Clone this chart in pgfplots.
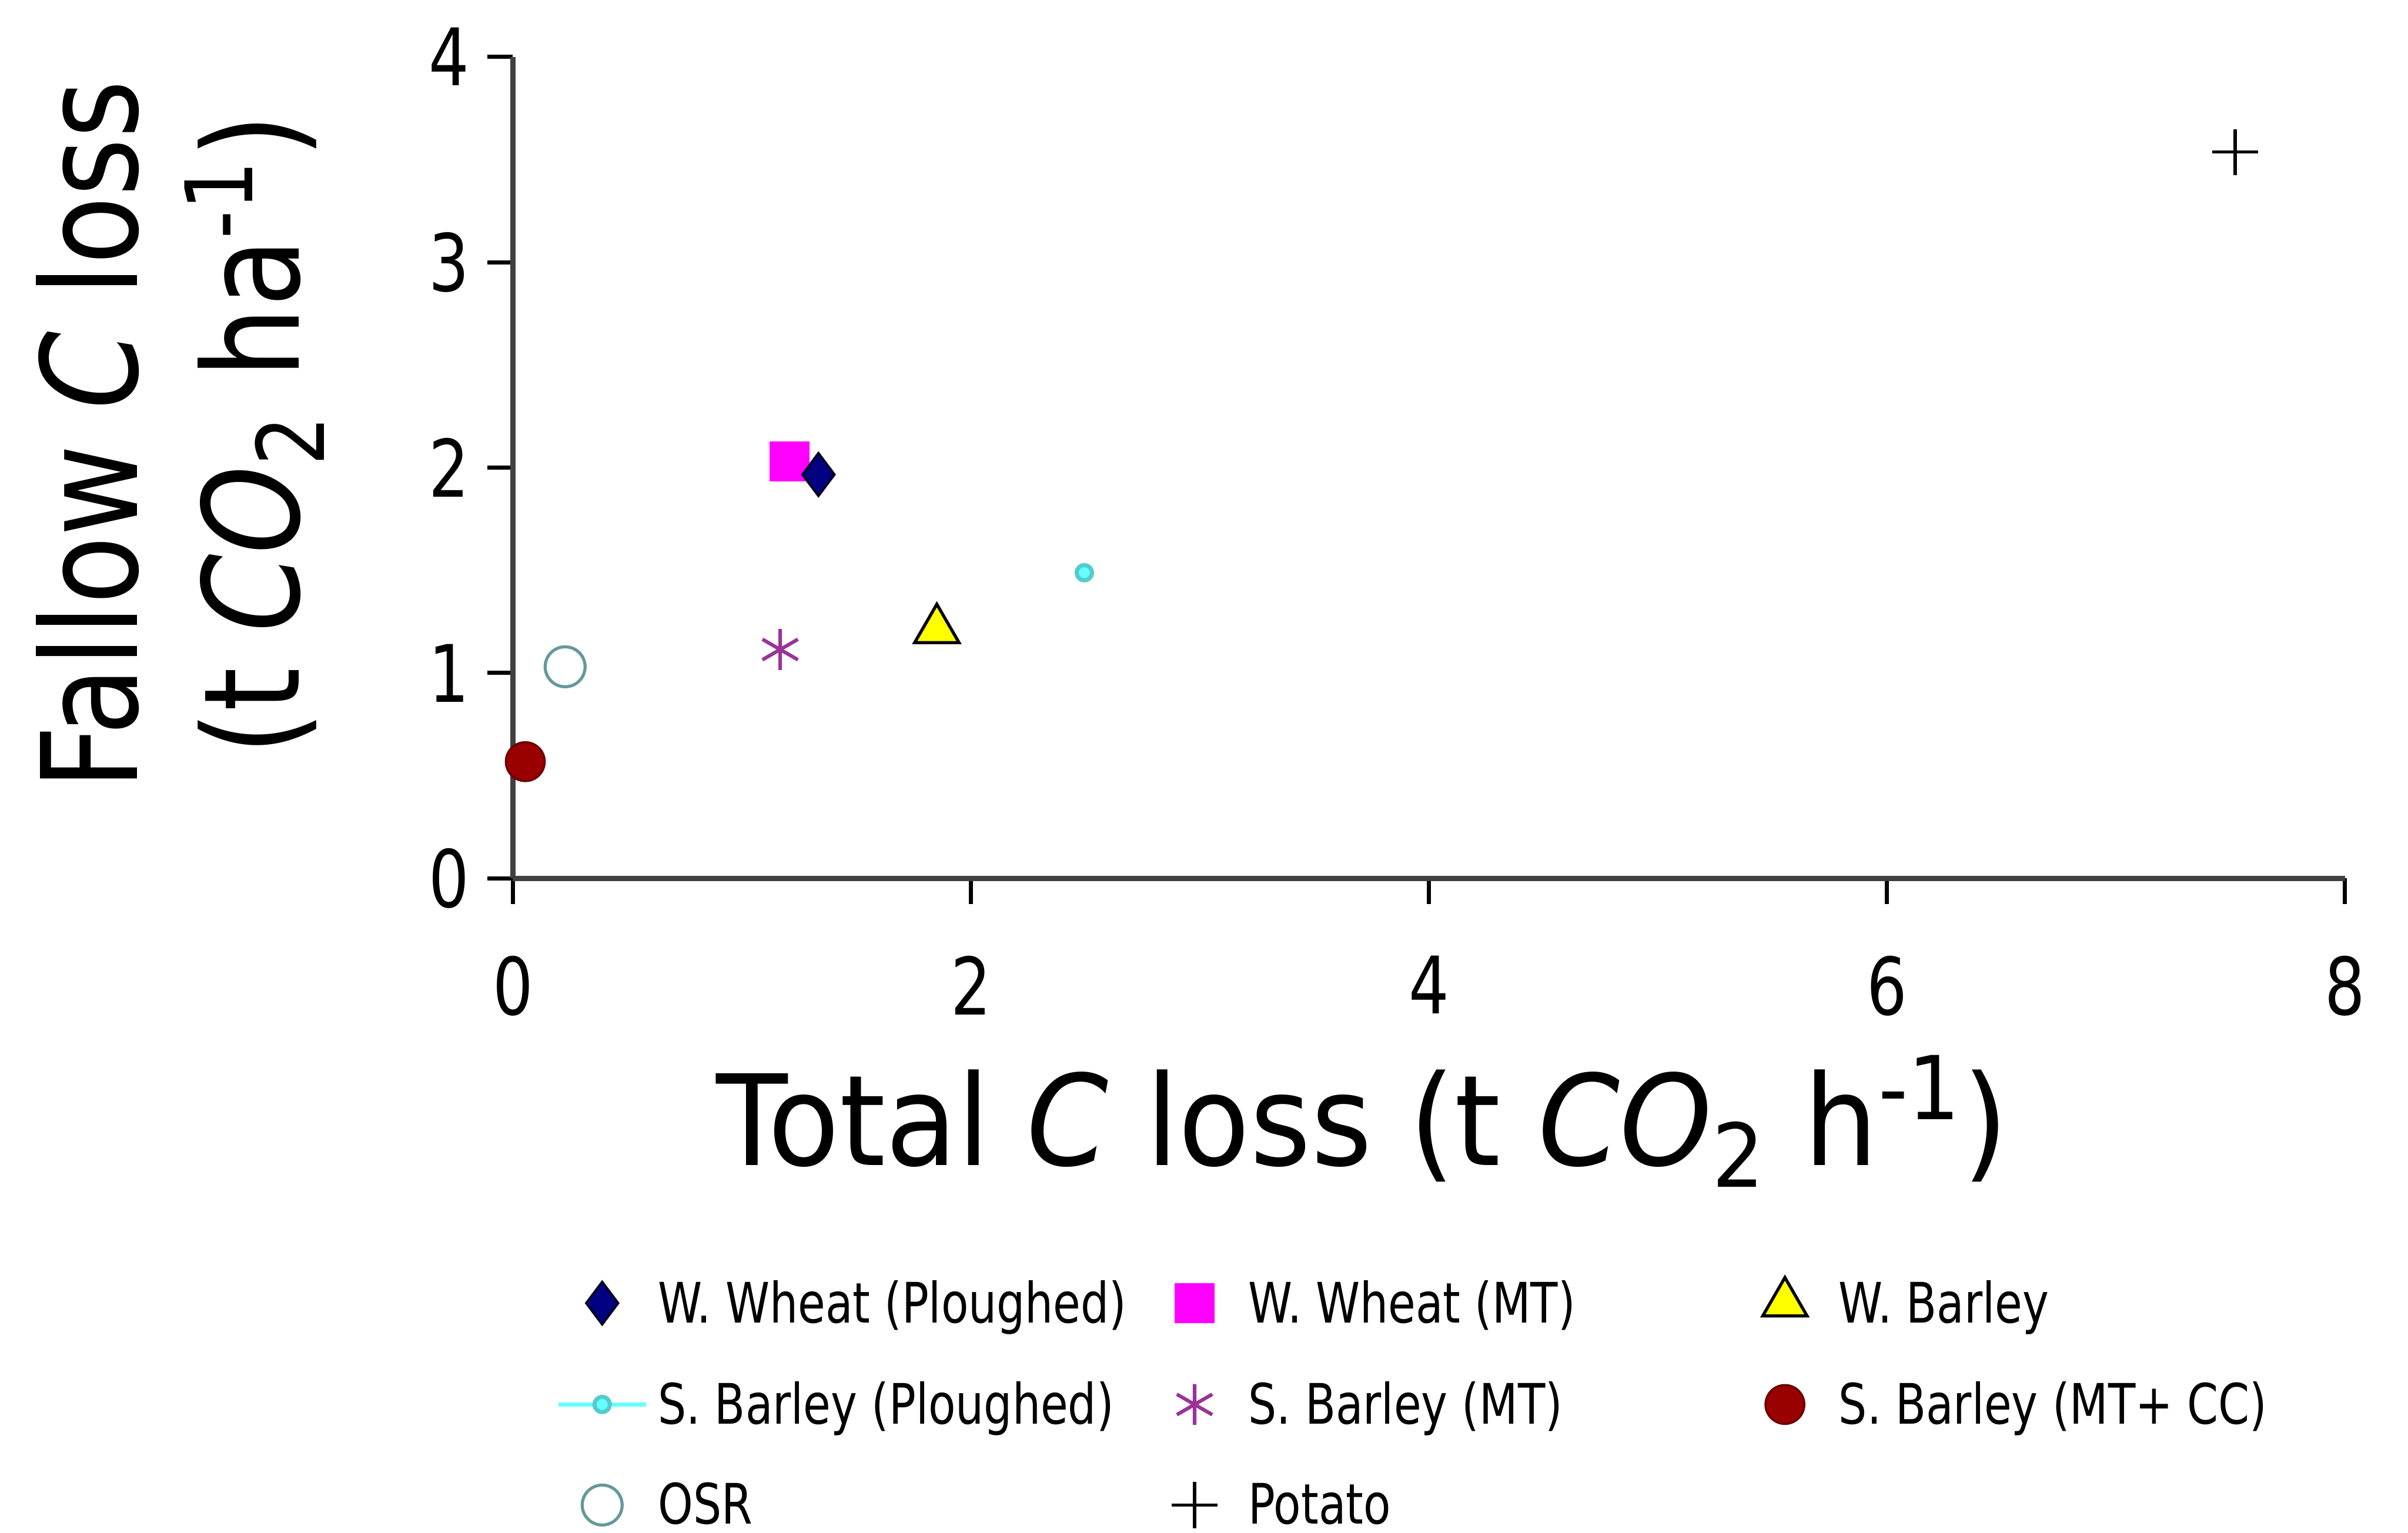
\documentclass[border=0pt]{standalone}
\usepackage{fontspec}
\setmainfont{DejaVu Sans}[FakeStretch=0.8, ItalicFont={DejaVu Sans Oblique}]
\newfontfamily\xlfont{DejaVu Sans}[FakeStretch=0.93, ItalicFont={DejaVu Sans Oblique}]
\newfontfamily\ylfont{DejaVu Sans}[FakeStretch=0.84, ItalicFont={DejaVu Sans Oblique}]
\usepackage{pgfplots}
\pgfplotsset{compat=1.18}
\definecolor{cWWP}{HTML}{000080}
\definecolor{cWWM}{HTML}{FF00FF}
\definecolor{cWB}{HTML}{FFFF00}
\definecolor{cSBP}{HTML}{66FFFF}
\definecolor{cSBM}{HTML}{993399}
\definecolor{cSBC}{HTML}{990000}
\definecolor{cOSR}{HTML}{669999}
\definecolor{cOSRf}{HTML}{EEFFFF}
\begin{document}
\begin{tikzpicture}
\path[use as bounding box] (-100.2pt,-127.8pt) rectangle (370.2pt,171.6pt);
\begin{axis}[
  at={(0,0)}, anchor=south west,
  scale only axis, width=357.9pt, height=160.5pt,
  xmin=0, xmax=8, ymin=0, ymax=4,
  xtick={0,2,4,6,8}, ytick={0,1,2,3,4},
  axis x line=bottom, axis y line=left,
  axis line style={-, draw=black!75, line width=1pt},
  tick align=outside, major tick length=5pt,
  tick style={black, line width=0.8pt},
  /pgf/number format/assume math mode=true,
  tick label style={font=\fontsize{15.5}{18}\selectfont},
  xticklabel style={yshift=-6.6pt},
  xlabel={Total \textit{C} loss (t \textit{CO}\textsubscript{2} h\textsuperscript{-1})},
  ylabel={Fallow \textit{C} loss\\(t \textit{CO}\textsubscript{2} ha\textsuperscript{-1})},
  xlabel style={at={(axis description cs:0.4636,-0.3495)}, anchor=base, font=\xlfont\fontsize{24.6}{29}\selectfont},
  ylabel style={at={(axis description cs:-0.1816,0.54)}, anchor=center, align=center, font=\ylfont\fontsize{26}{31.5}\selectfont},
  legend columns=3,
  legend image code/.code={%
    \path[draw=none, fill=none] (0cm,0cm) (0.6cm,0cm);
    \draw[mark repeat=2,mark phase=2,#1] plot coordinates {(0cm,0cm) (0.3cm,0cm) (0.6cm,0cm)};},
  legend style={draw=none, fill=none, inner sep=0pt,
    at={(axis description cs:0.0232,-0.4704)}, anchor=north west,
    font=\fontsize{10.9}{13}\selectfont, row sep=5.2pt,
    /tikz/every even column/.append style={column sep=6.25pt}},
  clip=false,
]
\addplot[only marks, mark=diamond*, mark size=4.2pt, mark options={draw=black!80!cWWP, fill=cWWP, line width=0.4pt}]
  coordinates {(1.334,1.966)};
\addlegendentry{\makebox[88pt][l]{\strut W. Wheat (Ploughed)}}
\addplot[only marks, mark=square*, mark size=3.7pt, mark options={draw=cWWM, fill=cWWM}]
  coordinates {(1.207,2.03)};
\addlegendentry{\makebox[88pt][l]{\strut W. Wheat (MT)}}
\addplot[only marks, mark=triangle*, mark size=5pt, mark options={draw=black, fill=cWB, line width=0.6pt}]
  coordinates {(1.851,1.21)};
\addlegendentry{\makebox[88pt][l]{\strut W. Barley}}
\addplot[draw=cSBP, line width=0.8pt, mark=*, mark size=1.5pt, mark options={draw=cSBP!80!black, fill=cSBP}]
  coordinates {(2.495,1.488)};
\addlegendentry{\makebox[88pt][l]{\strut S. Barley (Ploughed)}}
\addplot[only marks, mark=asterisk, mark size=4pt, mark options={draw=cSBM, line width=0.7pt}]
  coordinates {(1.167,1.114)};
\addlegendentry{\makebox[88pt][l]{\strut S. Barley (MT)}}
\addplot[only marks, mark=*, mark size=3.8pt, mark options={draw=cSBC!70!black, fill=cSBC, line width=0.4pt}]
  coordinates {(0.054,0.568)};
\addlegendentry{\makebox[88pt][l]{\strut S. Barley (MT+ CC)}}
\addplot[only marks, mark=o, mark size=3.9pt, mark options={draw=cOSR, fill=cOSRf, line width=0.6pt}]
  coordinates {(0.228,1.03)};
\addlegendentry{\makebox[88pt][l]{\rule{0pt}{8.8pt}OSR}}
\addplot[only marks, mark=+, mark size=4.5pt, mark options={draw=black, line width=0.6pt}]
  coordinates {(7.52,3.536)};
\addlegendentry{\makebox[88pt][l]{\rule{0pt}{8.8pt}Potato}}
\addplot[only marks, forget plot, mark=diamond*, mark size=4.2pt, mark options={draw=black!80!cWWP, fill=cWWP, line width=0.4pt}]
  coordinates {(1.334,1.966)};
\end{axis}
\end{tikzpicture}
\end{document}
